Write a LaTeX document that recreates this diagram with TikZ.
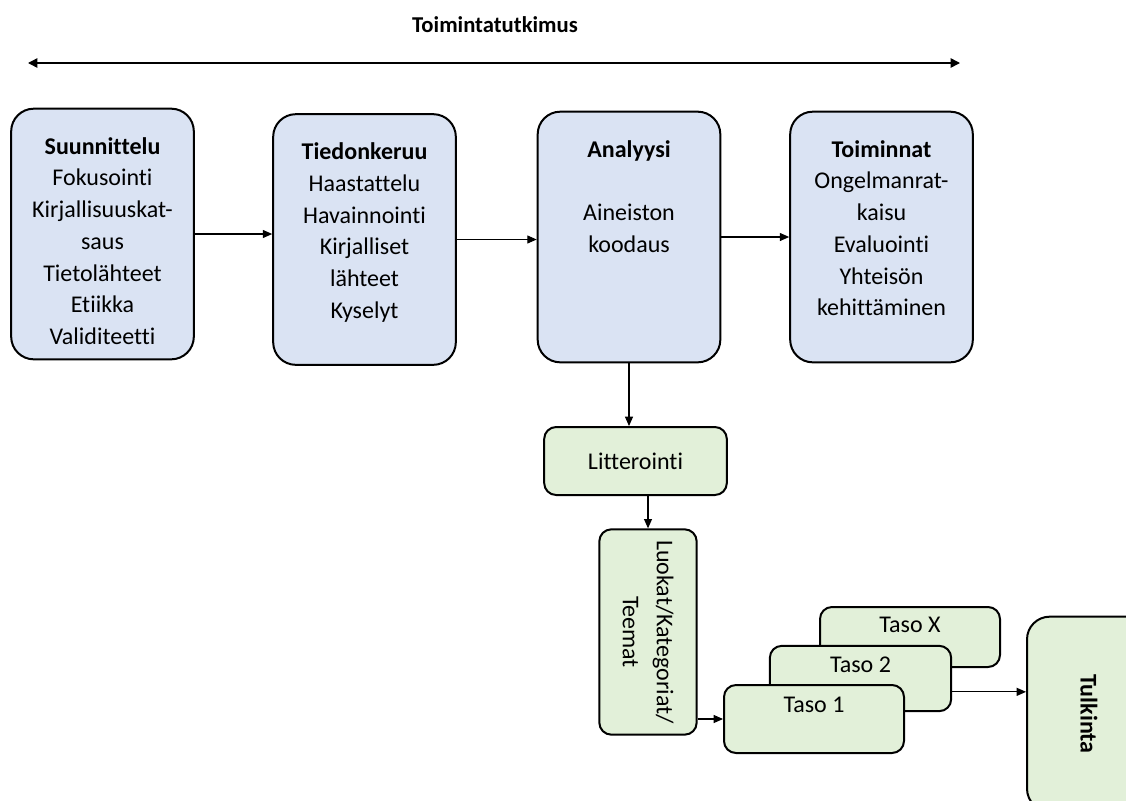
\documentclass[tikz,border=0pt]{standalone}
\usepackage{fontspec}
\setmainfont{Carlito}[Ligatures=NoCommon]
\usetikzlibrary{arrows.meta}
\definecolor{phaseblue}{HTML}{DAE3F3}
\definecolor{stepgreen}{HTML}{E2F0D9}

\begin{document}
\begin{tikzpicture}[x=0.75pt,y=-0.75pt,
		phase/.style={draw, line width=1.5pt, rounded corners=17pt, fill=phaseblue, minimum width=137pt, minimum height=188pt},
		stepbox/.style={draw, line width=1.5pt, rounded corners=9pt, fill=stepgreen},
		boxtext/.style={anchor=north, align=center, inner sep=0pt, font=\fontsize{18}{23.8}\selectfont},
		plain/.style={inner sep=0pt, align=center, font=\fontsize{18}{21}\selectfont},
		link/.style={-{Triangle[length=7pt,width=6pt]}, line width=0.8pt}]
	\clip (0,0) rectangle (1126,800);
	\fill[white] (0,0) rectangle (1126,800);

	\node[font=\fontsize{17}{20}\selectfont\bfseries] (title) at (495,25) {Toimintatutkimus};
	\coordinate (spanL) at (28,63);
	\coordinate (spanR) at (960,63);
	\draw[{Triangle[length=7pt,width=7pt]}-{Triangle[length=7pt,width=7pt]}, line width=1.1pt] (spanL) -- (spanR);

	\node[phase] (plan) at (102.5,234) {};
	\node[phase] (collect) at (364.5,239.5) {};
	\node[phase] (analysis) at (629,237) {};
	\node[phase] (actions) at (881.5,237) {};

	\node[boxtext] (plantext) at ([yshift=-22pt]plan.north) {\textbf{Suunnittelu}\\Fokusointi\\Kirjallisuuskat-\\saus\\Tietolähteet\\Etiikka\\Validiteetti};
	\node[boxtext] (collecttext) at ([yshift=-22pt]collect.north) {\textbf{Tiedonkeruu}\\Haastattelu\\Havainnointi\\Kirjalliset\\lähteet\\Kyselyt};
	\node[boxtext] (analysistext) at ([yshift=-22pt]analysis.north) {\textbf{Analyysi}\\[23.8pt]Aineiston\\koodaus};
	\node[boxtext] (actionstext) at ([yshift=-22pt]actions.north) {\textbf{Toiminnat}\\Ongelmanrat-\\kaisu\\Evaluointi\\Yhteisön\\kehittäminen};

	\draw[link] (plan.east) -- (collect.west |- plan.east);
	\draw[link] (collect.east) -- (analysis.west |- collect.east);
	\draw[link] (analysis.east) -- (actions.west);

	\node[stepbox, minimum width=137pt, minimum height=51pt, plain] (transcr) at (635.5,461) {Litterointi};
	\draw[link] (analysis.south) -- (transcr.north -| analysis.south);

	\node[stepbox, minimum width=73pt, minimum height=154pt] (themes) at (648,632) {};
	\node[plain, rotate=-90, font=\fontsize{18}{25.5}\selectfont] (themestext) at (themes.center) {Luokat/Kategoriat/\\Teemat};
	\draw[link] (themes.north |- transcr.south) -- (themes.north);

	\node[stepbox, minimum width=135pt, minimum height=45pt] (levelx) at (910,637) {};
	\node[plain] (levelxtext) at ([yshift=-14pt]levelx.north) {Taso X};
	\node[stepbox, minimum width=136pt, minimum height=49pt] (level2) at (860.5,678.5) {};
	\node[plain] (level2text) at ([yshift=-15pt]level2.north) {Taso 2};
	\node[stepbox, minimum width=135pt, minimum height=51pt] (level1) at (814,719) {};
	\node[plain] (level1text) at ([yshift=-16pt]level1.north) {Taso 1};
	\draw[link] (themes.east |- level1.west) -- (level1.west);

	\node[stepbox, rounded corners=17pt, minimum width=93pt, minimum height=146pt] (interp) at (1089,714) {};
	\node[plain, rotate=-90, font=\fontsize{18}{21}\selectfont\bfseries] (interptext) at (interp.center) {Tulkinta};
	\draw[link] ([yshift=-10pt]level2.east) -- ([yshift=-10pt]level2.east -| interp.west);
\end{tikzpicture}
\end{document}
